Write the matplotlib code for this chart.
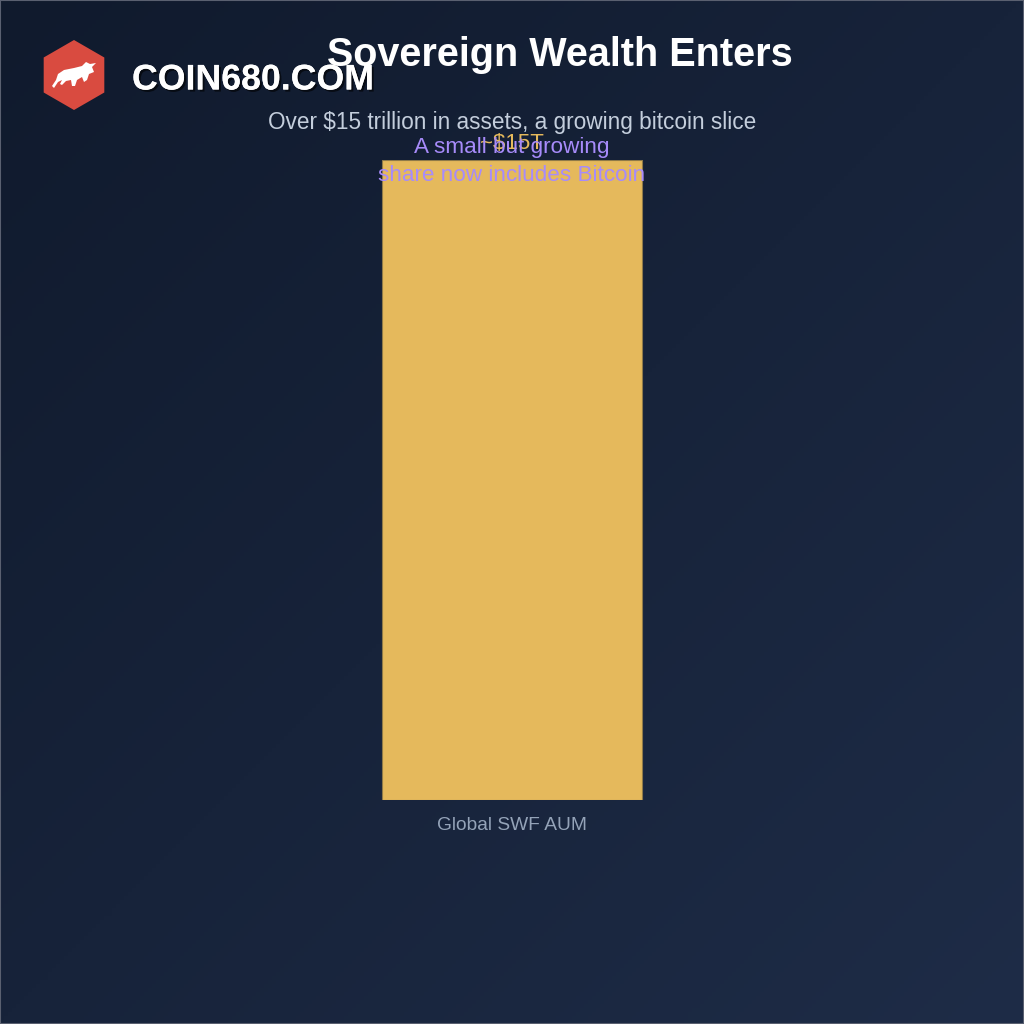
import numpy as np
import matplotlib.pyplot as plt
from matplotlib.patches import RegularPolygon, Polygon, Rectangle
import matplotlib.patheffects as pe

plt.rcParams['font.family'] = ['Liberation Sans', 'DejaVu Sans']

categories = ["Global SWF AUM"]
values = [15]
value_labels = ["~$15T"]

BAR = "#e5b95c"
PURPLE = "#a78bfa"

fig = plt.figure(figsize=(10.24, 10.24), dpi=100)

# background gradient
bg = fig.add_axes([0, 0, 1, 1], zorder=-2)
xx, yy = np.meshgrid(np.linspace(0, 1, 256), np.linspace(0, 1, 256))
t = (xx + yy) / 2
c0 = np.array([0x10, 0x1a, 0x2d]) / 255
c1 = np.array([0x1e, 0x2c, 0x47]) / 255
img = c0[None, None, :] * (1 - t[..., None]) + c1[None, None, :] * t[..., None]
bg.imshow(img, extent=[0, 1, 0, 1], aspect="auto", origin="upper")
bg.set_xlim(0, 1)
bg.set_ylim(0, 1)
bg.axis("off")
bg.add_patch(Rectangle((0, 0), 1, 1, fill=False, edgecolor="#5a6070", lw=1.5, transform=bg.transAxes))

# main chart
ax = fig.add_axes([(512 - 162.5) / 1024, (1024 - 800) / 1024, 325 / 1024, 640 / 1024])
ax.set_facecolor("none")
x = np.arange(len(categories))
bars = ax.bar(x, values, width=0.8, color=BAR, edgecolor="#8f7a48", linewidth=0.8)
ax.set_xlim(-0.5, 0.5)
ax.set_ylim(0, 15)
for s in ax.spines.values():
    s.set_visible(False)
ax.set_yticks([])
ax.set_xticks(x)
ax.set_xticklabels(categories, color="#94a3b8", fontsize=13.8)
ax.tick_params(axis="x", length=0, pad=12)

for xi, v, lab in zip(x, values, value_labels):
    ax.annotate(lab, (xi, v), xytext=(0, 4), textcoords="offset points",
                ha="center", va="bottom", color=BAR, fontsize=16)

ax.annotate("A small but growing\nshare now includes Bitcoin", (0, values[0]),
            xytext=(0, -1), textcoords="offset points", ha="center", va="center",
            color=PURPLE, fontsize=16.2, linespacing=1.4)

# titles
fig.text(560 / 1024, 1 - 55 / 1024, "Sovereign Wealth Enters", ha="center", va="center",
         color="white", fontsize=28.5, fontweight="bold")
fig.text(512 / 1024, 1 - 122 / 1024, "Over $15 trillion in assets, a growing bitcoin slice",
         ha="center", va="center", color="#c4cedc", fontsize=16.3)

# logo
lg = fig.add_axes([0, 0, 1, 1], zorder=5)
lg.set_xlim(0, 1024)
lg.set_ylim(1024, 0)
lg.axis("off")
lg.add_patch(RegularPolygon((74, 75), numVertices=6, radius=35, orientation=0,
                            facecolor="#d94b40", edgecolor="none"))
bull = [(52, 86), (56, 80), (58, 74), (64, 70), (74, 68), (82, 66), (86, 62), (90, 64),
        (96, 63), (92, 67), (94, 72), (89, 74), (87, 80), (84, 82), (82, 77), (77, 80),
        (75, 86), (72, 86), (71, 80), (66, 81), (62, 85), (60, 84), (62, 80), (58, 82),
        (54, 88)]
lg.add_patch(Polygon(bull, closed=True, facecolor="white", edgecolor="none"))
lg.text(132, 80, "COIN680.COM", ha="left", va="center", color="white", fontsize=25.7,
        fontweight="bold",
        path_effects=[pe.withSimplePatchShadow(offset=(1.5, -1.5), shadow_rgbFace="black", alpha=0.6),
                      pe.Normal()])

fig.savefig("out.png", dpi=100)
